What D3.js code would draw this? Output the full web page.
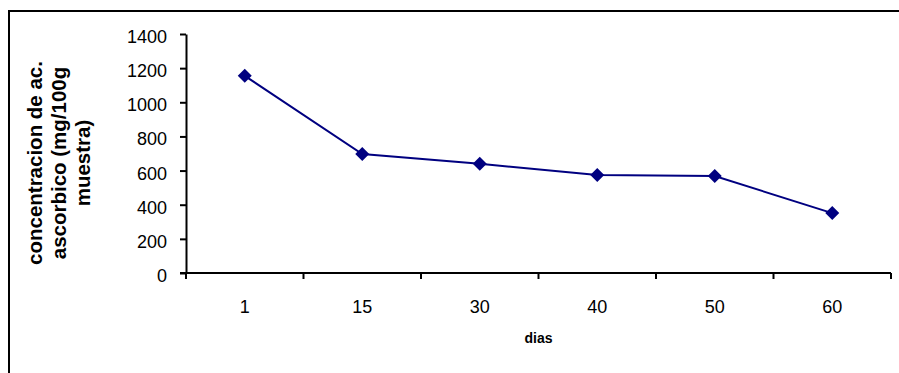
<!DOCTYPE html>
<html>
<head>
<meta charset="utf-8">
<script src="https://cdn.jsdelivr.net/npm/d3@7"></script>
<style>
  html, body { margin: 0; padding: 0; background: #fff; }
  svg { display: block; font-family: "Liberation Sans", Arial, sans-serif; }
</style>
</head>
<body>
<svg id="chart" width="899" height="373"></svg>
<script>
// Ascorbic acid concentration over storage days
const dias = ["1", "15", "30", "40", "50", "60"];
const concentracion = [1155, 697, 640, 574, 568, 351];
const yTicks = [0, 200, 400, 600, 800, 1000, 1200, 1400];
const yTitleLines = ["concentracion de ac.", "ascorbico (mg/100g", "muestra)"];
const xTitle = "dias";

const svg = d3.select("#chart");
const W = 899, H = 373;
const plot = { left: 186, right: 891, top: 34, bottom: 273 };

// outer frame (left and top edges visible)
svg.append("path")
  .attr("d", `M9,${H + 2}V11H${W + 2}`)
  .attr("fill", "none")
  .attr("stroke", "#000")
  .attr("stroke-width", 2);

const x = d3.scaleBand().domain(dias).range([plot.left, plot.right]).padding(0);
const y = d3.scaleLinear().domain([0, 1400]).range([plot.bottom, plot.top]);

// y axis
const yAxis = svg.append("g")
  .attr("transform", `translate(${plot.left},0)`)
  .call(d3.axisLeft(y).tickValues(yTicks).tickFormat(d3.format("d"))
    .tickSize(6).tickSizeOuter(0).tickPadding(13));
yAxis.select(".domain").attr("stroke-width", 2);
yAxis.selectAll(".tick line").attr("stroke-width", 2);
yAxis.selectAll(".tick text")
  .attr("font-size", 18).attr("font-family", "Liberation Sans, Arial, sans-serif")
  .attr("fill", "#000").attr("dy", "0.47em");

// x axis: labels centred in each category, ticks on category boundaries
const xAxis = svg.append("g")
  .attr("transform", `translate(0,${plot.bottom})`)
  .call(d3.axisBottom(x).tickSize(0).tickSizeOuter(0).tickPadding(27));
xAxis.select(".domain").attr("stroke-width", 2)
  .attr("d", `M${plot.left - 6},0H${plot.right}`);
xAxis.selectAll(".tick text")
  .attr("font-size", 18).attr("font-family", "Liberation Sans, Arial, sans-serif")
  .attr("fill", "#000");
const edges = dias.map(d => x(d)).concat([x(dias[dias.length - 1]) + x.bandwidth()]);
xAxis.selectAll("line.edge").data(edges).enter().append("line")
  .attr("class", "edge")
  .attr("x1", d => d).attr("x2", d => d)
  .attr("y1", 0).attr("y2", 6)
  .attr("stroke", "#000").attr("stroke-width", 2);

// series line and diamond markers
const cx = d => x(d) + x.bandwidth() / 2;
const pts = dias.map((d, i) => [cx(d), y(concentracion[i])]);
svg.append("path")
  .attr("d", d3.line()(pts))
  .attr("fill", "none")
  .attr("stroke", "#000080")
  .attr("stroke-width", 2);
svg.selectAll("path.marker").data(pts).enter().append("path")
  .attr("class", "marker")
  .attr("transform", p => `translate(${p[0]},${p[1]})`)
  .attr("d", "M0,-7L7,0L0,7L-7,0Z")
  .attr("fill", "#000080");

// axis titles
const yTitle = svg.append("text")
  .attr("transform", "translate(0,163) rotate(-90)")
  .attr("text-anchor", "middle")
  .attr("font-size", 20.5)
  .attr("font-weight", "bold")
  .attr("fill", "#000");
yTitle.selectAll("tspan").data(yTitleLines).enter().append("tspan")
  .attr("x", 0)
  .attr("y", (d, i) => 42 + i * 24)
  .text(d => d);

svg.append("text")
  .attr("x", (plot.left + plot.right) / 2)
  .attr("y", 343)
  .attr("text-anchor", "middle")
  .attr("font-size", 14)
  .attr("font-weight", "bold")
  .attr("fill", "#000")
  .text(xTitle);
</script>
</body>
</html>
